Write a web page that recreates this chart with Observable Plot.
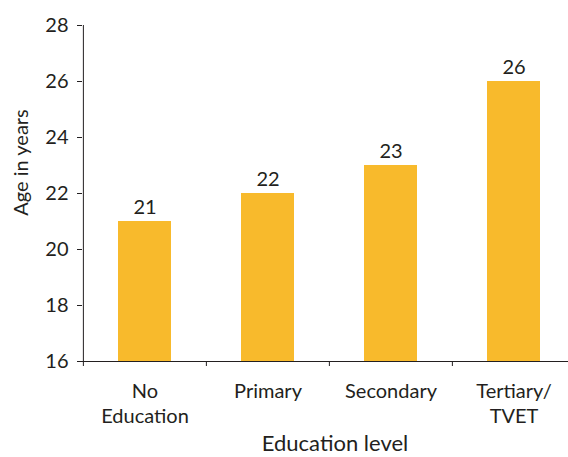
<!DOCTYPE html>
<html>
<head>
<meta charset="utf-8">
<script src="https://cdn.jsdelivr.net/npm/d3@7"></script>
<script src="https://cdn.jsdelivr.net/npm/@observablehq/plot@0.6"></script>
<style>
  html, body { margin: 0; padding: 0; background: #fff; }
</style>
</head>
<body>
<div id="chart"></div>
<script>
const categories = ["No\nEducation", "Primary", "Secondary", "Tertiary/\nTVET"];
const values = [21, 22, 23, 26];
const yTicks = [16, 18, 20, 22, 24, 26, 28];
const yDomain = [16, 28];
const yLabel = "Age in years";
const xLabel = "Education level";

const data = categories.map((c, i) => ({cat: c, value: values[i]}));

const W = 568, H = 457, mL = 82, mR = -7, mT = 25, mB = 96;
const step = (W - mR - mL) / categories.length;
const ink = "#231f20";
const pad = 0.57;

const chart = Plot.plot({
  width: W, height: H,
  marginLeft: mL, marginRight: mR, marginTop: mT, marginBottom: mB,
  style: {fontFamily: "Lato, 'Open Sans', sans-serif", fontSize: "19px", color: ink, background: "#fff"},
  x: {domain: categories, paddingInner: pad, paddingOuter: pad / 2, label: null},
  y: {domain: yDomain, ticks: yTicks, label: null},
  marks: [
    Plot.barY(data, {x: "cat", y1: yDomain[0], y2: "value", fill: "#F8BA2C"}),
    Plot.text(data, {x: "cat", y: "value", text: d => String(d.value), dy: -8, lineAnchor: "bottom", fontSize: 20, fill: ink}),
    Plot.ruleY([yDomain[0]], {stroke: ink}),
    Plot.ruleX([categories[0]], {y1: yDomain[0], y2: yDomain[1], dx: -step / 2, stroke: ink}),
    Plot.axisX({tickSize: 5, tickFormat: () => "", dx: -step / 2, stroke: ink}),
    Plot.axisX({tickSize: 0, tickPadding: 18, lineHeight: 1.27, fontSize: 20, fill: ink}),
    Plot.axisY({ticks: yTicks, tickSize: 5, tickPadding: 9, fontSize: 20, stroke: ink, fill: ink, label: null}),
    Plot.text([yLabel], {frameAnchor: "left", textAnchor: "middle", rotate: -90, dx: -61, dy: -31, fontSize: 20, fill: ink}),
    Plot.text([xLabel], {frameAnchor: "bottom", dx: 6, dy: 89, fontSize: 22, fill: ink})
  ]
});
document.getElementById("chart").appendChild(chart);
</script>
</body>
</html>
